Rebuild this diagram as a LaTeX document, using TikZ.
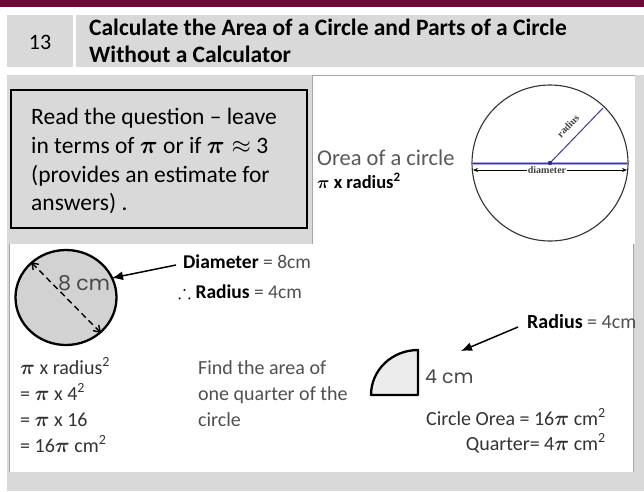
\documentclass[tikz,border=0pt]{standalone}
\usepackage{amssymb}
\usepackage{bm}
\usepackage{fontspec}
\setmainfont{Carlito}
\newfontfamily\gothic{Poppins}
\newfontfamily\serifx{Liberation Serif}
\usetikzlibrary{arrows.meta}
\definecolor{maroon}{HTML}{6B0A38}
\definecolor{hgrey}{HTML}{D9D9D9}
\definecolor{cgrey}{HTML}{D2D2D2}
\definecolor{qgrey}{HTML}{ECECEC}
\definecolor{hwgrey}{HTML}{505050}
\definecolor{lav}{HTML}{A6A6E0}
\definecolor{dblue}{HTML}{3A3A9A}
\begin{document}
\begin{tikzpicture}[x=1pt,y=-1pt,
  txt/.style={inner sep=0pt, anchor=base west},
  boxtxt/.style={txt, font=\fontsize{23.5}{28}\selectfont},
  hw/.style={txt, font=\fontsize{20}{24}\selectfont, text=hwgrey},
  hwr/.style={hw, anchor=base east},
  lbl/.style={font=\serifx\bfseries\fontsize{10}{12}\selectfont, inner sep=1pt},
  border/.style={draw=black!35, line width=0.8pt}]
\useasboundingbox (0,0) rectangle (644,491);
% frame
\fill[maroon] (0,0) rectangle (644,7);
\fill[hgrey] (7,15) rectangle (73,67);
\fill[hgrey] (76,15) rectangle (644,67);
\fill[hgrey] (7,75) rectangle (644,491);
\node[font=\fontsize{22}{26}\selectfont] (num) at (40,42) {13};
\node[txt, font=\bfseries\fontsize{23.5}{28}\selectfont] (title1) at (89,35) {Calculate the Area of a Circle and Parts of a Circle};
\node[txt, font=\bfseries\fontsize{23.5}{28}\selectfont] (title2) at (89,62) {Without a Calculator};
% info box
\draw[fill=hgrey, line width=1.6pt] (11,90) rectangle (307,228);
\node[boxtxt] (b1) at (31,124) {Read the question -- leave};
\node[boxtxt] (b2) at (31,153) {in terms of $\bm{\pi}$ or if $\bm{\pi}\approx$ 3};
\node[boxtxt] (b3) at (31,182) {(provides an estimate for};
\node[boxtxt] (b4) at (31,210) {answers) .};
% top-right picture
\fill[white] (312,75) rectangle (635,244);
\draw[border] (312,244) -- (312,75) -- (635,75);
\node[hw, text=black!65, font=\fontsize{22.5}{26}\selectfont] (area) at (317,165) {Orea of a circle};
\node[txt, font=\bfseries\fontsize{18.5}{22}\selectfont] (formula) at (317,188) {$\bm{\pi}$ x radius\textsuperscript{2}};
\coordinate (c0) at (550,163);
\draw[line width=1.1pt, black!80] (c0) circle (78);
\draw[line width=3pt, lav] (472,163) -- (628,163);
\draw[line width=0.9pt, dblue] (472,163) -- (628,163);
\coordinate (rend) at (603,108);
\draw[line width=1pt, dblue] (c0) -- (rend);
\fill[dblue!80!black] (c0) circle (2.2);
\coordinate (dl) at (473,170);
\coordinate (dr) at (627,170);
\draw[line width=0.8pt, {Stealth[length=5pt,width=4pt]}-{Stealth[length=5pt,width=4pt]}] (dl) -- (dr);
\node[lbl, fill=white, text=black!75] (diam) at (547,170) {diameter};
\node[lbl, text=black!75, rotate=46, inner sep=0pt] (rad) at (568,126) {radius};
% lower picture
\fill[white] (9,244) rectangle (633,472);
\draw[border] (9,244) -- (9,472);
\draw[border] (633,244) -- (633,472);
\coordinate (cc) at (66,297.5);
\draw[fill=cgrey, line width=2.3pt] (cc) ellipse (50.5 and 47.5);
\coordinate (da) at (31,262);
\coordinate (db) at (101,333);
\draw[dashed, dash pattern=on 6pt off 4pt, line width=1.4pt, {Straight Barb[length=6pt,width=8pt]}-{Straight Barb[length=6pt,width=8pt]}] (da) -- (db);
\node[font=\gothic\fontsize{20.5}{24}\selectfont, text=black!72, inner sep=0pt] (eight) at (84,283) {8 cm};
\node[txt, font=\bfseries\fontsize{19.5}{24}\selectfont] (diamw) at (183,268) {Diameter\textcolor{hwgrey}{\mdseries\ = 8cm}};
\node[txt, font=\fontsize{19.5}{24}\selectfont] (radw) at (178,298) {$\therefore$ \textbf{Radius}\textcolor{hwgrey}{\ = 4cm}};
\coordinate (dtail) at (176,265);
\coordinate (dtip) at (112,278);
\draw[line width=1.5pt, -{Latex[length=11pt,width=9pt]}] (dtail) -- (dtip);
\node[hw, text=black!80] (l1) at (20,374) {$\bm{\pi}$ x radius\textsuperscript{2}};
\node[hw, text=black!80] (l2) at (20,400) {= $\bm{\pi}$ x 4\textsuperscript{2}};
\node[hw, text=black!80] (l3) at (20,426) {= $\bm{\pi}$ x 16};
\node[hw, text=black!80] (l4) at (20,452) {= 16$\bm{\pi}$ cm\textsuperscript{2}};
\node[hw] (f1) at (198,374) {Find the area of};
\node[hw] (f2) at (198,400) {one quarter of the};
\node[hw] (f3) at (198,426) {circle};
\node[txt, font=\bfseries\fontsize{20}{24}\selectfont] (radq) at (527,328) {Radius\textcolor{hwgrey}{\mdseries\ = 4cm}};
\coordinate (rtail) at (518,327);
\coordinate (rtip) at (461,351);
\draw[line width=1.5pt, -{Latex[length=11pt,width=9pt]}] (rtail) -- (rtip);
\coordinate (qc) at (418,395);
\draw[fill=qgrey, line width=2.3pt, line join=round] (qc) -- (418,350) .. controls (392,350) and (371,370) .. (371,395) -- cycle;
\node[txt, font=\gothic\fontsize{19}{22}\selectfont, text=black!72] (four) at (425,383) {4 cm};
\node[hwr, text=black!80] (ca) at (606,425) {Circle Orea = 16$\bm{\pi}$ cm\textsuperscript{2}};
\node[hwr, text=black!80] (qa) at (606,450) {Quarter= 4$\bm{\pi}$ cm\textsuperscript{2}};
\end{tikzpicture}
\end{document}
